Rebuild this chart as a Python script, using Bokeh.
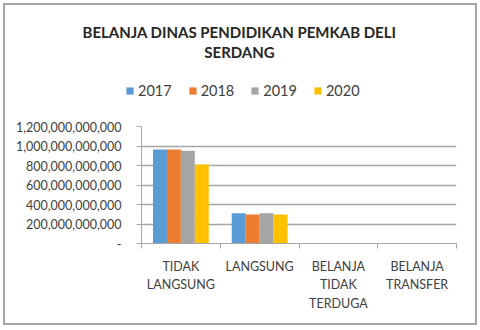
from bokeh.plotting import figure
from bokeh.layouts import column
from bokeh.models import (ColumnDataSource, Range1d, FixedTicker, Label, Legend, LegendItem,
                          NumeralTickFormatter)
from bokeh.transform import dodge
from bokeh.embed import file_html
from bokeh.resources import INLINE

categories = ["TIDAK\nLANGSUNG", "LANGSUNG", "BELANJA\nTIDAK\nTERDUGA", "BELANJA\nTRANSFER"]
years = ["2017", "2018", "2019", "2020"]
v2017 = [964e9, 310e9, 0, 0]
v2018 = [964e9, 297e9, 0, 0]
v2019 = [951e9, 310e9, 0, 0]
v2020 = [811e9, 297e9, 0, 0]
colors = ["#5B9BD5", "#ED7D31", "#A5A5A5", "#FFC000"]
y_ticks = [0, 200e9, 400e9, 600e9, 800e9, 1000e9, 1200e9]
title_lines = ["BELANJA DINAS PENDIDIKAN PEMKAB DELI", "SERDANG"]

idx = list(range(len(categories)))
src = ColumnDataSource(dict(idx=idx, v2017=v2017, v2018=v2018, v2019=v2019, v2020=v2020))

W = 470
H_TOP, H_MAIN = 105, 213
bw = 0.177
offsets = [-1.5 * bw, -0.5 * bw, 0.5 * bw, 1.5 * bw]

# ---- header: title + legend ----
top = figure(width=W, height=H_TOP, output_backend="svg", toolbar_location=None, title=None,
             x_range=Range1d(-0.5, len(categories) - 0.5), y_range=Range1d(0, 1200e9),
             x_axis_type=None, y_axis_type=None,
             min_border=0, min_border_left=0, min_border_right=0, min_border_top=0,
             min_border_bottom=0)
top.frame_align = False
top.outline_line_color = None
top.grid.visible = False
top.background_fill_color = "white"
top.border_fill_color = "white"
hdr_renderers = []
for y, col, off in zip(years, colors, offsets):
    r = top.vbar(x=dodge("idx", off), top="v" + y, width=bw, bottom=0, source=src,
                 fill_color=col, line_color=None, visible=False)
    hdr_renderers.append(r)

title_y = [79, 58.3]
for t, ty in zip(title_lines, title_y):
    top.add_layout(Label(x=234, y=ty, x_units="screen", y_units="screen", text=t,
                         text_font="Lato", text_font_style="bold", text_font_size="15px",
                         text_color="#262626", text_align="center", text_baseline="middle"))

legend = Legend(items=[LegendItem(label=y, renderers=[r]) for y, r in zip(years, hdr_renderers)],
                orientation="horizontal", location=(120, 11), padding=0, margin=0,
                spacing=16, label_standoff=4, glyph_width=9, glyph_height=9, label_height=16,
                label_text_font="Lato", label_text_font_size="14.5px", label_text_color="#404040",
                border_line_color=None, background_fill_alpha=0, inactive_fill_alpha=0)
top.add_layout(legend, "center")

# ---- main chart ----
p = figure(width=W, height=H_MAIN, output_backend="svg", toolbar_location=None, title=None,
           x_range=Range1d(-0.5, len(categories) - 0.5), y_range=Range1d(0, 1200e9),
           min_border_left=136, min_border_right=19, min_border_top=16, min_border_bottom=80)
p.frame_align = False
p.outline_line_color = None
p.background_fill_color = "white"
p.border_fill_color = "white"

for y, col, off in zip(years, colors, offsets):
    p.vbar(x=dodge("idx", off), top="v" + y, width=bw, bottom=0, source=src,
           fill_color=col, line_color=None)

p.xaxis.ticker = FixedTicker(ticks=idx, minor_ticks=[i - 0.5 for i in idx] + [len(idx) - 0.5])
p.xaxis.major_label_overrides = {i: c for i, c in zip(idx, categories)}
p.xaxis.major_tick_out = 0
p.xaxis.major_tick_in = 0
p.xaxis.minor_tick_out = 5
p.xaxis.minor_tick_in = 0
p.xaxis.minor_tick_line_color = "#a6a6a6"
p.xaxis.axis_line_color = "#a6a6a6"
p.xaxis.major_label_text_font = "Lato"
p.xaxis.major_label_text_font_size = "12.5px"
p.xaxis.major_label_text_line_height = 1.25
p.xaxis.major_label_text_color = "#404040"
p.xaxis.major_label_standoff = 10
p.xaxis.major_label_orientation = "horizontal"

p.yaxis.ticker = FixedTicker(ticks=y_ticks, minor_ticks=[])
p.yaxis.formatter = NumeralTickFormatter(format="0,0")
p.yaxis.major_label_overrides = {0: "-"}
p.yaxis.major_tick_out = 5
p.yaxis.major_tick_in = 0
p.yaxis.minor_tick_out = 0
p.yaxis.minor_tick_in = 0
p.yaxis.major_tick_line_color = "#a6a6a6"
p.yaxis.axis_line_color = "#a6a6a6"
p.yaxis.major_label_text_font = "Lato"
p.yaxis.major_label_text_font_size = "12.5px"
p.yaxis.major_label_text_color = "#404040"
p.yaxis.major_label_standoff = 15

p.xgrid.grid_line_color = None
p.ygrid.ticker = FixedTicker(ticks=y_ticks)
p.ygrid.grid_line_color = "#a6a6a6"
p.ygrid.grid_line_width = 1.5

layout = column(top, p, spacing=0)
layout.styles = {"margin-left": "5px", "margin-top": "5px", "box-shadow": "0 0 0 2px #a6a6a6"}

open("out.html", "w").write(file_html(layout, INLINE))
